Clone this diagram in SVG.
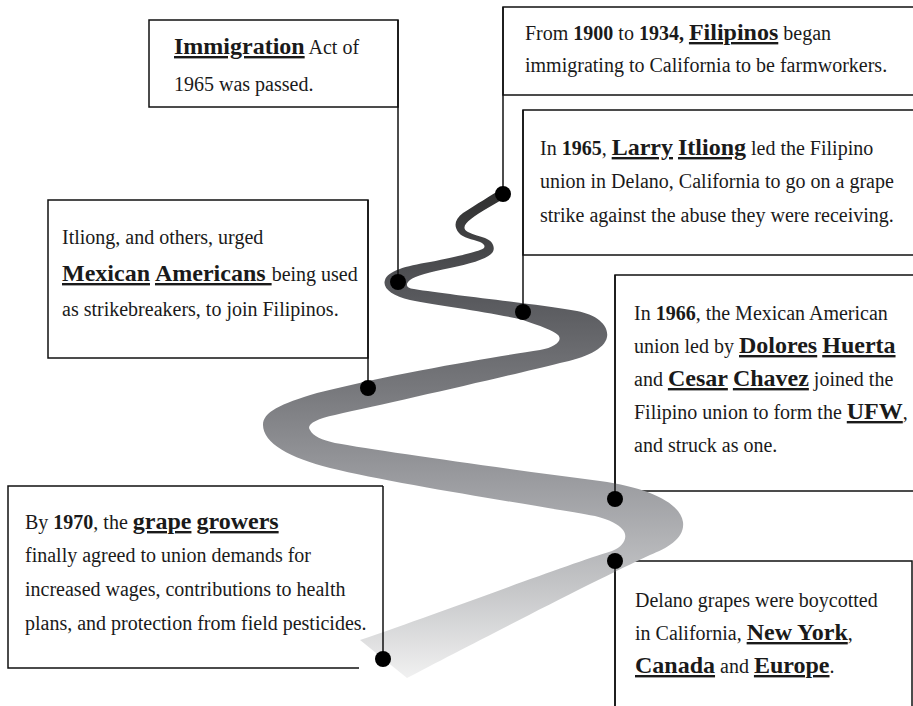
<svg xmlns="http://www.w3.org/2000/svg" width="913" height="706" viewBox="0 0 913 706">
<style>
.box{fill:#fff;stroke:#111;stroke-width:1.5}
.t{font-family:"Liberation Serif","Times New Roman",serif;font-size:20px;fill:#1a1a1a}
.b{font-weight:bold}
.u{font-weight:bold;font-size:24px;text-decoration:underline;text-decoration-thickness:2px}
.conn{stroke:#111;stroke-width:1.5;fill:none}
.dot{fill:#000}
</style>
<defs>
<linearGradient id="road" gradientUnits="userSpaceOnUse" x1="0" y1="190" x2="0" y2="685">
<stop offset="0" stop-color="#2e2e2e"/>
<stop offset="0.2" stop-color="#55565a"/>
<stop offset="0.4" stop-color="#77787c"/>
<stop offset="0.6" stop-color="#9d9ea2"/>
<stop offset="0.8" stop-color="#c4c5c7"/>
<stop offset="1" stop-color="#f4f4f4"/>
</linearGradient>
</defs>

<g id="node-immigration">
<rect class="box" x="149" y="20" width="249" height="87"/>
<text class="t" x="174" y="54"><tspan class="u">Immigration</tspan> Act of</text>
<text class="t" x="174" y="91">1965 was passed.</text>
</g>

<g id="node-filipinos">
<rect class="box" x="503" y="7" width="420" height="88"/>
<text class="t" x="525" y="40">From <tspan class="b">1900</tspan> to <tspan class="b">1934,</tspan> <tspan class="u">Filipinos</tspan> began</text>
<text class="t" x="525" y="72">immigrating to California to be farmworkers.</text>
</g>

<g id="node-larry">
<rect class="box" x="523" y="110" width="400" height="145"/>
<text class="t" x="540" y="155">In <tspan class="b">1965</tspan>, <tspan class="u">Larry</tspan> <tspan class="u">Itliong</tspan> led the Filipino</text>
<text class="t" x="540" y="188">union in Delano, California to go on a grape</text>
<text class="t" x="540" y="222">strike against the abuse they were receiving.</text>
</g>

<g id="node-mexican">
<rect class="box" x="48" y="200" width="320" height="158"/>
<text class="t" x="62" y="244">Itliong, and others, urged</text>
<text class="t" x="62" y="281"><tspan class="u">Mexican</tspan> <tspan class="u">Americans </tspan>being used</text>
<text class="t" x="62" y="316">as strikebreakers, to join Filipinos.</text>
</g>

<g id="node-1966">
<rect class="box" x="615" y="275" width="310" height="216"/>
<text class="t" x="634" y="320">In <tspan class="b">1966</tspan>, the Mexican American</text>
<text class="t" x="634" y="353">union led by <tspan class="u">Dolores</tspan> <tspan class="u">Huerta</tspan></text>
<text class="t" x="634" y="386">and <tspan class="u">Cesar</tspan> <tspan class="u">Chavez</tspan> joined the</text>
<text class="t" x="634" y="419">Filipino union to form the <tspan class="u">UFW</tspan>,</text>
<text class="t" x="634" y="452">and struck as one.</text>
</g>

<g id="node-1970">
<rect x="8" y="486" width="375" height="182" fill="#fff"/>
<path class="conn" d="M359,668 H8 V486 H383"/>
<text class="t" x="25" y="529">By <tspan class="b">1970</tspan>, the <tspan class="u">grape</tspan> <tspan class="u">growers</tspan></text>
<text class="t" x="25" y="562">finally agreed to union demands for</text>
<text class="t" x="25" y="596">increased wages, contributions to health</text>
<text class="t" x="25" y="630">plans, and protection from field pesticides.</text>
</g>

<g id="node-delano">
<rect class="box" x="615" y="561" width="297" height="160"/>
<text class="t" x="635" y="607">Delano grapes were boycotted</text>
<text class="t" x="635" y="640">in California, <tspan class="u">New York</tspan>,</text>
<text class="t" x="635" y="673"><tspan class="u">Canada</tspan> and <tspan class="u">Europe</tspan>.</text>
</g>

<g id="road-path">
<path fill="url(#road)" d="M506,197
C495,204 480,212 471,219
C464,224 462,229 468,232
C474,235 480,236 485,238
C493,241 496,248 492,253
C487,259 470,264 450,268
C430,272 415,276 410,280
C405,284 406,288 414,289
C450,295 530,303 577,311
C598,315 609,326 607,337
C605,349 585,358 560,363
C500,378 390,403 335,415
C315,419 306,425 310,430
C313,436 322,440 335,443
C380,451 500,468 600,481
C650,488 680,503 683,522
C685,538 668,548 650,555
C600,578 470,645 407,678
L360,640
C440,613 560,567 612,551
C625,546 628,536 623,530
C618,524 610,520 595,516
C540,506 400,485 330,468
C290,458 263,443 263,425
C263,412 280,404 317,393
C400,372 500,356 540,350
C556,347 563,340 558,335
C553,330 540,326 523,320
C490,312 440,306 410,300
C392,296 382,288 385,280
C388,271 405,266 430,262
C455,257 472,253 480,250
C486,248 486,245 480,242
C472,239 463,238 459,233
C453,226 455,219 463,213
C477,204 490,196 500,190 Z"/>
</g>

<g id="connectors">
<line class="conn" x1="398" y1="20" x2="398" y2="282"/>
<line class="conn" x1="503" y1="7" x2="503" y2="194"/>
<line class="conn" x1="523" y1="110" x2="523" y2="312"/>
<line class="conn" x1="368" y1="200" x2="368" y2="388"/>
<line class="conn" x1="615" y1="275" x2="615" y2="499"/>
<line class="conn" x1="383" y1="486" x2="383" y2="659"/>
<line class="conn" x1="615" y1="561" x2="615" y2="706"/>
<circle class="dot" cx="503" cy="194" r="8"/>
<circle class="dot" cx="398" cy="282" r="8"/>
<circle class="dot" cx="523" cy="312" r="8"/>
<circle class="dot" cx="368" cy="388" r="8"/>
<circle class="dot" cx="615" cy="499" r="8"/>
<circle class="dot" cx="615" cy="561" r="8"/>
<circle class="dot" cx="383" cy="659" r="8"/>
</g>
</svg>
